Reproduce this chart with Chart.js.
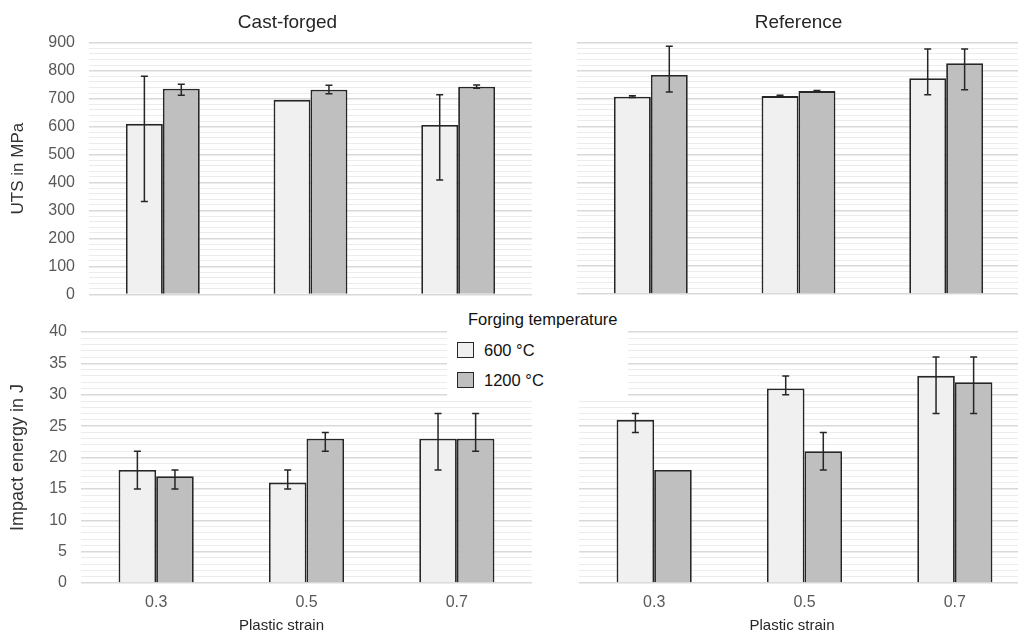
<!DOCTYPE html>
<html>
<head>
<meta charset="utf-8">
<title>UTS and impact energy by plastic strain</title>
<script src="https://cdn.jsdelivr.net/npm/chart.js@4.4.1/dist/chart.umd.min.js"></script>
<style>
  html, body { margin: 0; padding: 0; background: #fff; overflow: hidden; }
  #wrap { position: relative; width: 1018px; height: 635px; overflow: hidden; }
  #wrap canvas { position: absolute; }
  #cTL { left: 0; top: 0; }
  #cTR { left: 577px; top: 0; }
  #cBL { left: 0; top: 300px; }
  #cBR { left: 554px; top: 300px; }
  #legend {
    position: absolute; left: 447px; top: 300px; width: 181px; height: 97px;
    background: #fff; z-index: 2;
    font-family: "Liberation Sans", Arial, sans-serif; font-size: 16.5px; color: #111;
  }
  #legend .ttl { position: absolute; left: 21px; top: 9px; line-height: 20px; white-space: nowrap; }
  #legend ul { position: absolute; left: 10px; top: 35px; margin: 0; padding: 0; list-style: none; }
  #legend li { display: flex; align-items: center; height: 30px; white-space: nowrap; }
  #legend li span.box { display: inline-block; width: 17px; height: 16px; box-sizing: border-box; border-style: solid; margin-right: 10px; }
</style>
</head>
<body>
<div id="wrap">
  <canvas id="cTL" width="575" height="318"></canvas>
  <canvas id="cTR" width="443" height="296"></canvas>
  <canvas id="cBL" width="563" height="335"></canvas>
  <canvas id="cBR" width="476" height="335"></canvas>
  <div id="legend"><div class="ttl">Forging temperature</div><ul></ul></div>
</div>
<script>
// Categories and series
var strains = ['0.3', '0.5', '0.7'];
var temps = ['600 °C', '1200 °C'];

// UTS in MPa - cast-forged (bar value, error bar low / high)
var utsCast600 = [610, 696, 606];
var utsCast600Lo = [332, null, 409];
var utsCast600Hi = [780, null, 714];
var utsCast1200 = [736, 732, 743];
var utsCast1200Lo = [712, 718, 737];
var utsCast1200Hi = [752, 748, 749];

// UTS in MPa - reference
var utsRef600 = [707, 709, 773];
var utsRef600Lo = [704, 706, 714];
var utsRef600Hi = [710, 712, 878];
var utsRef1200 = [785, 727, 827];
var utsRef1200Lo = [724, 725, 732];
var utsRef1200Hi = [888, 729, 878];

// Impact energy in J - cast-forged
var impCast600 = [18, 16, 23];
var impCast600Lo = [15, 15, 18];
var impCast600Hi = [21, 18, 27];
var impCast1200 = [17, 23, 23];
var impCast1200Lo = [15, 21, 21];
var impCast1200Hi = [18, 24, 27];

// Impact energy in J - reference
var impRef600 = [26, 31, 33];
var impRef600Lo = [24, 30, 27];
var impRef600Hi = [27, 33, 36];
var impRef1200 = [18, 21, 32];
var impRef1200Lo = [null, 18, 27];
var impRef1200Hi = [null, 24, 36];

// Axis ranges: max, labelled step, minor grid step
var utsAxis = [900, 100, 20];
var impAxis = [40, 5, 1];

Chart.defaults.font.family = '"Liberation Sans", Arial, sans-serif';
Chart.defaults.color = '#595959';

// Error bars, drawn from dataset errLow / errHigh through the y scale.
var errorBars = {
	id: 'errorBars',
	afterDatasetsDraw: function(chart) {
		var ctx = chart.ctx;
		var yScale = chart.scales.y;
		chart.data.datasets.forEach(function(ds, di) {
			if (!ds.errLow) return;
			var meta = chart.getDatasetMeta(di);
			meta.data.forEach(function(bar, i) {
				var lo = ds.errLow[i], hi = ds.errHigh[i];
				if (lo == null || hi == null) return;
				var y1 = yScale.getPixelForValue(lo);
				var y2 = yScale.getPixelForValue(hi);
				ctx.save();
				ctx.strokeStyle = '#262626';
				ctx.lineWidth = 1.5;
				ctx.beginPath();
				ctx.moveTo(bar.x, y1); ctx.lineTo(bar.x, y2);
				ctx.moveTo(bar.x - 3.5, y1); ctx.lineTo(bar.x + 3.5, y1);
				ctx.moveTo(bar.x - 3.5, y2); ctx.lineTo(bar.x + 3.5, y2);
				ctx.stroke();
				ctx.restore();
			});
		});
	}
};

// HTML legend built from the chart's own legend items.
var htmlLegend = {
	id: 'htmlLegend',
	afterUpdate: function(chart, args, options) {
		var list = document.getElementById(options.containerID).querySelector('ul');
		while (list.firstChild) list.firstChild.remove();
		var items = chart.options.plugins.legend.labels.generateLabels(chart);
		items.forEach(function(item) {
			var li = document.createElement('li');
			var box = document.createElement('span');
			box.className = 'box';
			box.style.background = item.fillStyle;
			box.style.borderColor = item.strokeStyle;
			box.style.borderWidth = '1.5px';
			var txt = document.createElement('span');
			txt.textContent = item.text;
			li.appendChild(box);
			li.appendChild(txt);
			list.appendChild(li);
		});
	}
};

function makePanel(id, cfg) {
	var axis = cfg.axis;
	var isMajor = function(c) { return c.tick && c.tick.value % axis[1] === 0; };
	var scales = {
		y: {
			min: 0,
			max: axis[0],
			afterFit: function(s) { s.width = cfg.yWidth; },
			border: { display: false },
			grid: {
				drawTicks: false,
				color: function(c) { return isMajor(c) ? '#d9d9d9' : '#ececec'; },
				lineWidth: function(c) { return isMajor(c) ? 1.5 : 1; }
			},
			ticks: {
				display: !!cfg.yTitle,
				stepSize: axis[2],
				autoSkip: false,
				padding: 14,
				color: '#595959',
				font: { size: 16 },
				callback: function(v) { return v % axis[1] === 0 ? v : ''; }
			},
			title: {
				display: !!cfg.yTitle,
				text: cfg.yTitle || '',
				color: '#333',
				font: { size: cfg.yTitleSize || 17 },
				padding: { top: cfg.yTitlePad || 8, bottom: 0 }
			}
		},
		x: cfg.xTicks ? {
			grid: { display: false, drawTicks: false },
			border: { display: false },
			ticks: { color: '#595959', font: { size: 16 }, padding: 10 },
			afterFit: function(s) { s.height = 33; }
		} : { display: false }
	};
	if (cfg.rightPad) {
		scales.pad = {
			type: 'linear',
			position: 'right',
			grid: { display: false },
			border: { display: false },
			ticks: { display: false },
			afterFit: function(s) { s.width = cfg.rightPad; }
		};
	}
	var plugins = [errorBars];
	if (cfg.legendBox) plugins.push(htmlLegend);

	return new Chart(document.getElementById(id), {
		type: 'bar',
		data: {
			labels: strains,
			datasets: [{
				label: temps[0],
				data: cfg.v600,
				errLow: cfg.lo600,
				errHigh: cfg.hi600,
				backgroundColor: '#f0f0f0',
				borderColor: '#262626',
				borderWidth: 1.8
			}, {
				label: temps[1],
				data: cfg.v1200,
				errLow: cfg.lo1200,
				errHigh: cfg.hi1200,
				backgroundColor: '#bfbfbf',
				borderColor: '#262626',
				borderWidth: 1.8
			}]
		},
		options: {
			responsive: false,
			animation: false,
			layout: { padding: cfg.padding },
			datasets: { bar: { categoryPercentage: 0.5, barPercentage: 1 } },
			plugins: {
				legend: { display: false },
				tooltip: { enabled: false },
				htmlLegend: { containerID: 'legend' },
				title: {
					display: !!cfg.title,
					text: cfg.title || '',
					color: '#262626',
					font: { size: 19, weight: 'normal' },
					padding: { top: 11, bottom: 9 }
				},
				subtitle: {
					display: !!cfg.xTitle,
					text: cfg.xTitle || '',
					position: 'bottom',
					color: '#262626',
					font: { size: 15 },
					padding: { top: 1, bottom: 0 }
				}
			},
			scales: scales
		},
		plugins: plugins
	});
}

// UTS, cast-forged
makePanel('cTL', {
	title: 'Cast-forged', yTitle: 'UTS in MPa', yTitleSize: 17, yTitlePad: 8,
	axis: utsAxis, yWidth: 89, rightPad: 43, padding: { bottom: 0 },
	v600: utsCast600, lo600: utsCast600Lo, hi600: utsCast600Hi,
	v1200: utsCast1200, lo1200: utsCast1200Lo, hi1200: utsCast1200Hi
});

// UTS, reference
makePanel('cTR', {
	title: 'Reference', axis: utsAxis, yWidth: 0, padding: { bottom: 2 },
	v600: utsRef600, lo600: utsRef600Lo, hi600: utsRef600Hi,
	v1200: utsRef1200, lo1200: utsRef1200Lo, hi1200: utsRef1200Hi
});

// Impact energy, cast-forged
makePanel('cBL', {
	yTitle: 'Impact energy in J', yTitleSize: 18, yTitlePad: 7, xTitle: 'Plastic strain', xTicks: true,
	axis: impAxis, yWidth: 81, rightPad: 31, padding: { top: 32 }, legendBox: true,
	v600: impCast600, lo600: impCast600Lo, hi600: impCast600Hi,
	v1200: impCast1200, lo1200: impCast1200Lo, hi1200: impCast1200Hi
});

// Impact energy, reference
makePanel('cBR', {
	xTitle: 'Plastic strain', xTicks: true,
	axis: impAxis, yWidth: 25, padding: { top: 32 },
	v600: impRef600, lo600: impRef600Lo, hi600: impRef600Hi,
	v1200: impRef1200, lo1200: impRef1200Lo, hi1200: impRef1200Hi
});
</script>
</body>
</html>
